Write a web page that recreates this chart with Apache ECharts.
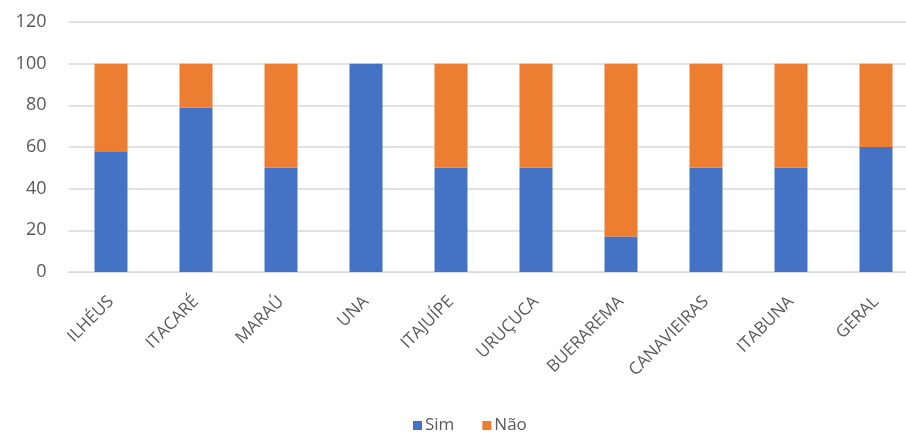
<!DOCTYPE html>
<html>
<head>
<meta charset="utf-8">
<script src="https://cdn.jsdelivr.net/npm/echarts@6/dist/echarts.min.js"></script>
<style>
  html, body { margin: 0; padding: 0; background: #fff; }
  #chart { width: 906px; height: 433px; }
</style>
</head>
<body>
<div id="chart"></div>
<script>
const categories = ['ILHÉUS', 'ITACARÉ', 'MARAÚ', 'UNA', 'ITAJUÍPE', 'URUÇUCA', 'BUERAREMA', 'CANAVIEIRAS', 'ITABUNA', 'GERAL'];
const simValues = [58, 79, 50, 100, 50, 50, 17, 50, 50, 60];
const naoValues = [42, 21, 50, 0, 50, 50, 83, 50, 50, 40];
const seriesNames = ['Sim', 'Não'];

const chart = echarts.init(document.getElementById('chart'), null, { renderer: 'canvas' });
const font = '"Open Sans", "Liberation Sans", sans-serif';

chart.setOption({
  animation: false,
  color: ['#4472C4', '#ED7D31'],
  grid: {
    left: 68.5, top: 22, width: 850, height: 250,
    containLabel: false,
    outerBoundsMode: 'none'
  },
  legend: {
    data: seriesNames,
    top: 412,
    left: 408,
    itemWidth: 9,
    itemHeight: 9,
    itemGap: 28,
    icon: 'rect',
    textStyle: { color: '#595959', fontSize: 17, fontFamily: font, padding: [0, 0, 0, -2] }
  },
  xAxis: {
    type: 'category',
    data: categories,
    axisTick: { show: false },
    axisLine: { lineStyle: { color: '#d9d9d9' } },
    axisLabel: {
      rotate: 45,
      interval: 0,
      margin: 27,
      color: '#595959',
      fontSize: 17,
      fontFamily: font
    }
  },
  yAxis: {
    type: 'value',
    min: 0,
    max: 120,
    interval: 20,
    axisLine: { show: false },
    axisTick: { show: false },
    splitLine: { lineStyle: { color: '#d9d9d9', width: 1.5 } },
    axisLabel: { color: '#595959', fontSize: 18, fontFamily: font, margin: 22 }
  },
  series: [
    { name: seriesNames[0], type: 'bar', stack: 'total', data: simValues, barWidth: 33 },
    { name: seriesNames[1], type: 'bar', stack: 'total', data: naoValues, barWidth: 33 }
  ]
});
</script>
</body>
</html>
